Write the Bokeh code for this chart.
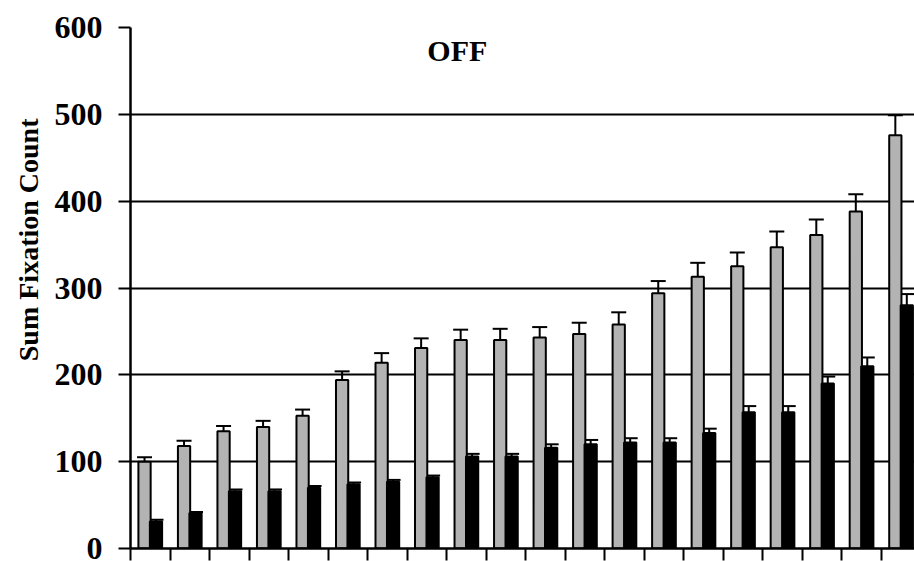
import numpy as np
from bokeh.plotting import figure
from bokeh.models import (ColumnDataSource, Range1d, FixedTicker, Whisker, TeeHead, Label, Title)
from bokeh.embed import file_html
from bokeh.resources import INLINE

# ---- data ----
groups = list(range(1, 21))
gray_vals = [100, 118, 135, 140, 153, 194, 214, 231, 240, 240, 243, 247, 258, 294, 313, 325, 347, 361, 388, 476]
gray_err = [5, 6, 6, 7, 7, 10, 11, 11, 12, 13, 12, 13, 14, 14, 16, 16, 18, 18, 20, 23]
black_vals = [31, 41, 66, 66, 70, 74, 77, 82, 106, 106, 116, 120, 122, 122, 133, 157, 157, 190, 210, 280]
black_err = [2, 1, 2, 2, 2, 2, 2, 2, 3, 3, 4, 5, 5, 5, 5, 7, 7, 8, 10, 13]
y_ticks = [0, 100, 200, 300, 400, 500, 600]
title_text = "OFF"
y_label = "Sum Fixation Count"

FONT = "Liberation Serif"
GRAY = "#b3b3b3"

idx = np.arange(len(groups))
gsrc = ColumnDataSource(dict(x=idx + 0.355, top=gray_vals,
                             up=np.array(gray_vals) + np.array(gray_err)))
bsrc = ColumnDataSource(dict(x=idx + 0.645, top=black_vals,
                             up=np.array(black_vals) + np.array(black_err)))

p = figure(width=914, height=561, output_backend="svg", toolbar_location=None,
           x_range=Range1d(0, 19.84), y_range=Range1d(0, 600),
           min_border_left=130, min_border_right=0, min_border_top=27,
           min_border_bottom=13)
p.outline_line_color = None
p.background_fill_color = "white"
p.border_fill_color = "white"

p.vbar(x="x", top="top", bottom=0, width=0.31, source=gsrc,
       fill_color=GRAY, line_color="black", line_width=2)
p.vbar(x="x", top="top", bottom=0, width=0.31, source=bsrc,
       fill_color="black", line_color="black", line_width=2)

for src in (gsrc, bsrc):
    w = Whisker(base="x", lower="top", upper="up", source=src,
                line_color="black", line_width=2,
                upper_head=TeeHead(size=15, line_color="black", line_width=2),
                lower_head=None)
    p.add_layout(w)

# y axis
p.yaxis.ticker = FixedTicker(ticks=y_ticks)
p.yaxis.major_label_text_font = FONT
p.yaxis.major_label_text_font_style = "bold"
p.yaxis.major_label_text_font_size = "32px"
p.yaxis.major_label_text_color = "black"
p.yaxis.major_label_standoff = 16
p.yaxis.major_tick_out = 12
p.yaxis.major_tick_in = 0
p.yaxis.minor_tick_line_color = None
p.yaxis.axis_line_width = 2.5
p.yaxis.major_tick_line_width = 2
p.yaxis.axis_line_color = "black"
p.yaxis.major_tick_line_color = "black"

# x axis: ticks at group boundaries, no labels
p.xaxis.ticker = FixedTicker(ticks=list(range(0, len(groups) + 1)))
p.xaxis.major_label_text_font_size = "0px"
p.xaxis.major_label_text_color = None
p.xaxis.major_label_standoff = 0
p.xaxis.major_tick_out = 12
p.xaxis.major_tick_in = 0
p.xaxis.minor_tick_line_color = None
p.xaxis.axis_line_width = 2.5
p.xaxis.major_tick_line_width = 2
p.xaxis.axis_line_color = "black"
p.xaxis.major_tick_line_color = "black"

p.xgrid.grid_line_color = None
p.ygrid.ticker = FixedTicker(ticks=y_ticks[1:])
p.ygrid.grid_line_color = "black"
p.ygrid.grid_line_width = 2

p.add_layout(Label(x=8.27, y=573, text=title_text, text_font=FONT,
                   text_font_style="bold", text_font_size="30px",
                   text_align="center", text_baseline="alphabetic",
                   text_color="black"))

p.add_layout(Title(text=y_label, align="right", offset=91, standoff=15,
                   text_font=FONT, text_font_style="bold",
                   text_font_size="28px", text_color="black"), "left")

open("out.html", "w").write(file_html(p, INLINE))
